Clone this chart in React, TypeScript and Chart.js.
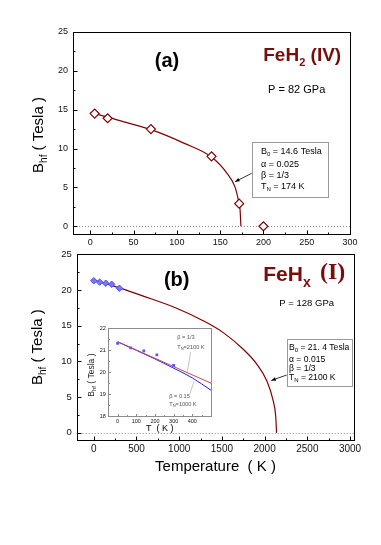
import React, { useEffect, useRef } from "react";
import { Chart, registerables } from "chart.js";

Chart.register(...registerables);

const SANS = "'Liberation Sans', Arial, Helvetica, sans-serif";
const SERIF = "'Liberation Serif', 'Times New Roman', serif";
const DARK_RED = "#800000";
const TITLE_RED = "#7a0c0c";

// ---- Panel (a): FeH2 (IV), P = 82 GPa ----
const aXTicks = [0, 50, 100, 150, 200, 250, 300];
const aYTicks = [0, 5, 10, 15, 20, 25];
const aDataT = [5, 20, 70, 140, 172, 200];
const aDataB = [14.5, 13.9, 12.5, 9.0, 2.9, 0];
const aFitT = [0, 20, 40, 71, 108, 140, 158, 167, 171, 173, 174];
const aFitB = [14.6, 14.05, 13.4, 12.4, 10.7, 8.9, 6.8, 5.1, 3.4, 2.1, 0];

// ---- Panel (b): FeHx (I), P = 128 GPa ----
const bXTicks = [0, 500, 1000, 1500, 2000, 2500, 3000];
const bYTicks = [0, 5, 10, 15, 20, 25];
const bDataT = [0, 70, 140, 210, 300];
const bDataB = [21.3, 21.1, 20.95, 20.8, 20.25];
const bFitT = [0, 300, 580, 970, 1280, 1520, 1750, 1910, 2025, 2100, 2130, 2140];
const bFitB = [21.4, 20.3, 19.15, 17.45, 15.7, 14.0, 11.7, 9.6, 7.3, 4.5, 2.3, 0];

// ---- Inset of panel (b) ----
const iXTicks = [0, 100, 200, 300, 400];
const iYTicks = [18, 19, 20, 21, 22];
const iDataT = [0, 70, 140, 210, 300];
const iDataB = [21.3, 21.1, 20.96, 20.78, 20.3];
const iFitThirdT = [0, 500];
const iFitThirdB = [21.38, 19.5];
const iFit015T = [0, 100, 200, 300, 400, 500];
const iFit015B = [21.37, 20.99, 20.6, 20.18, 19.74, 19.18];

const zip = (xs: number[], ys: number[]) => xs.map((x, i) => ({ x, y: ys[i] }));

type Run = { t: string; size: number; bold?: boolean; family?: string; dy?: number };

function fontOf(r: Run) {
  return `${r.bold ? "bold " : ""}${r.size}px ${r.family || SANS}`;
}

function drawRuns(ctx: any, runs: Run[], x: number, y: number, align = "left", color = "#000", rot = 0) {
  ctx.save();
  ctx.translate(x, y);
  if (rot) ctx.rotate(rot);
  ctx.fillStyle = color;
  ctx.textBaseline = "alphabetic";
  ctx.textAlign = "left";
  let w = 0;
  runs.forEach((r) => {
    ctx.font = fontOf(r);
    w += ctx.measureText(r.t).width;
  });
  let cx = align === "left" ? 0 : align === "center" ? -w / 2 : -w;
  runs.forEach((r) => {
    ctx.font = fontOf(r);
    ctx.fillText(r.t, cx, r.dy || 0);
    cx += ctx.measureText(r.t).width;
  });
  ctx.restore();
}

function arrow(ctx: any, x1: number, y1: number, x2: number, y2: number, color = "#000") {
  ctx.save();
  ctx.strokeStyle = color;
  ctx.fillStyle = color;
  ctx.lineWidth = 0.8;
  ctx.beginPath();
  ctx.moveTo(x1, y1);
  ctx.lineTo(x2, y2);
  ctx.stroke();
  const a = Math.atan2(y2 - y1, x2 - x1);
  const L = 4.5;
  const W = 1.8;
  ctx.beginPath();
  ctx.moveTo(x2, y2);
  ctx.lineTo(x2 - L * Math.cos(a) + W * Math.sin(a), y2 - L * Math.sin(a) - W * Math.cos(a));
  ctx.lineTo(x2 - L * Math.cos(a) - W * Math.sin(a), y2 - L * Math.sin(a) + W * Math.cos(a));
  ctx.closePath();
  ctx.fill();
  ctx.restore();
}

function line(ctx: any, x1: number, y1: number, x2: number, y2: number, color: string, w = 0.7) {
  ctx.save();
  ctx.strokeStyle = color;
  ctx.lineWidth = w;
  ctx.beginPath();
  ctx.moveTo(x1, y1);
  ctx.lineTo(x2, y2);
  ctx.stroke();
  ctx.restore();
}

function box(ctx: any, x1: number, y1: number, x2: number, y2: number) {
  ctx.save();
  ctx.fillStyle = "#fff";
  ctx.strokeStyle = "#9a9a9a";
  ctx.lineWidth = 1;
  const l = Math.round(Math.min(x1, x2)) + 0.5;
  const t = Math.round(Math.min(y1, y2)) + 0.5;
  const r = Math.round(Math.max(x1, x2)) + 0.5;
  const b = Math.round(Math.max(y1, y2)) + 0.5;
  ctx.fillRect(l, t, r - l, b - t);
  ctx.strokeRect(l, t, r - l, b - t);
  ctx.restore();
}

function minorValues(min: number, max: number, step: number, majors: number[]) {
  const out: number[] = [];
  const start = Math.ceil(min / step) * step;
  for (let v = start; v <= max + 1e-9; v += step) {
    if (!majors.some((m) => Math.abs(m - v) < step * 1e-3)) out.push(v);
  }
  return out;
}

function framePlugin(opts: any) {
  return {
    id: "frameTicks",
    beforeDraw(chart: any) {
      if (!opts.whiteBg) return;
      const { ctx, chartArea: a } = chart;
      ctx.save();
      ctx.fillStyle = "#fff";
      ctx.fillRect(a.left, a.top, a.right - a.left, a.bottom - a.top);
      ctx.restore();
    },
    beforeDatasetsDraw(chart: any) {
      if (!opts.zeroLine) return;
      const { ctx, chartArea: a } = chart;
      const y0 = Math.round(chart.scales.y.getPixelForValue(0)) + 0.5;
      ctx.save();
      ctx.strokeStyle = "#8a8a8a";
      ctx.lineWidth = 1;
      ctx.setLineDash([1, 2]);
      ctx.beginPath();
      ctx.moveTo(a.left, y0);
      ctx.lineTo(a.right, y0);
      ctx.stroke();
      ctx.restore();
    },
    afterDatasetsDraw(chart: any) {
      const { ctx, chartArea: a, scales } = chart;
      const sx = scales.x;
      const sy = scales.y;
      const L = Math.round(a.left) + 0.5;
      const R = Math.round(a.right) + 0.5;
      const T = Math.round(a.top) + 0.5;
      const B = Math.round(a.bottom) + 0.5;
      ctx.save();
      ctx.strokeStyle = opts.color;
      ctx.lineWidth = 1;
      ctx.beginPath();
      const xMaj = sx.ticks.map((t: any) => t.value);
      const yMaj = sy.ticks.map((t: any) => t.value);
      xMaj.forEach((v: number) => {
        const p = Math.round(sx.getPixelForValue(v)) + 0.5;
        ctx.moveTo(p, B);
        ctx.lineTo(p, B - opts.major);
      });
      minorValues(sx.min, sx.max, opts.xMinor, xMaj).forEach((v) => {
        const p = Math.round(sx.getPixelForValue(v)) + 0.5;
        ctx.moveTo(p, B);
        ctx.lineTo(p, B - opts.minor);
      });
      yMaj.forEach((v: number) => {
        const p = Math.round(sy.getPixelForValue(v)) + 0.5;
        ctx.moveTo(L, p);
        ctx.lineTo(L + opts.major, p);
      });
      minorValues(sy.min, sy.max, opts.yMinor, yMaj).forEach((v) => {
        const p = Math.round(sy.getPixelForValue(v)) + 0.5;
        ctx.moveTo(L, p);
        ctx.lineTo(L + opts.minor, p);
      });
      ctx.stroke();
      ctx.strokeRect(L, T, R - L, B - T);
      ctx.restore();
    },
  };
}

function linearAxis(min: number, max: number, ticks: number[], o: any) {
  return {
    type: "linear",
    min,
    max,
    afterBuildTicks: (s: any) => {
      s.ticks = ticks.map((v) => ({ value: v }));
    },
    afterFit: (s: any) => {
      if (o.horizontal) s.height = o.size;
      else s.width = o.size;
    },
    grid: { display: false, drawTicks: false },
    border: { display: false },
    ticks: {
      font: { size: o.fontSize, family: SANS },
      color: "#111",
      padding: o.pad,
      maxRotation: 0,
      autoSkip: false,
      callback: (v: any) => String(v),
    },
    title: o.title
      ? {
          display: true,
          text: o.title,
          color: "#000",
          font: { size: o.titleSize, family: SANS },
          padding: { top: 0, bottom: o.titlePad },
        }
      : { display: false },
  };
}

const P = (chart: any, x: number, y: number) => [chart.scales.x.getPixelForValue(x), chart.scales.y.getPixelForValue(y)];

function topConfig(): any {
  const decor = {
    id: "decorA",
    afterDraw(chart: any) {
      const { ctx, chartArea: a } = chart;
      let p = P(chart, 88.6, 20.47);
      drawRuns(ctx, [{ t: "(a)", size: 20, bold: true }], p[0], p[1], "center");
      p = P(chart, 199.8, 21.31);
      drawRuns(
        ctx,
        [
          { t: "FeH", size: 19, bold: true },
          { t: "2", size: 11, bold: true, dy: 5 },
          { t: " (IV)", size: 19, bold: true },
        ],
        p[0],
        p[1],
        "left",
        TITLE_RED
      );
      p = P(chart, 238.4, 17.15);
      drawRuns(ctx, [{ t: "P = 82 GPa", size: 11 }], p[0], p[1], "center");
      // parameter box
      const b1 = P(chart, 186.4, 10.88);
      const b2 = P(chart, 274.9, 3.72);
      const a1 = P(chart, 186.4, 6.81);
      const a2 = P(chart, 167.2, 5.73);
      arrow(ctx, a1[0], a1[1], a2[0], a2[1]);
      box(ctx, b1[0], b1[1], b2[0], b2[1]);
      const lx = 197.2;
      p = P(chart, lx, 9.31);
      drawRuns(ctx, [{ t: "B", size: 9 }, { t: "0", size: 6, dy: 2 }, { t: " = 14.6 Tesla", size: 9 }], p[0], p[1]);
      p = P(chart, lx, 7.56);
      drawRuns(ctx, [{ t: "\u03b1 = 0.025", size: 9 }], p[0], p[1]);
      p = P(chart, lx, 6.18);
      drawRuns(ctx, [{ t: "\u03b2 = 1/3", size: 9 }], p[0], p[1]);
      p = P(chart, lx, 4.77);
      drawRuns(ctx, [{ t: "T", size: 9 }, { t: "N", size: 6, dy: 2 }, { t: " = 174 K", size: 9 }], p[0], p[1]);
      // y title
      drawRuns(
        ctx,
        [
          { t: "B", size: 15 },
          { t: "hf", size: 10, dy: 4 },
          { t: " ( Tesla )", size: 15 },
        ],
        a.left - 29.7,
        (a.top + a.bottom) / 2 + 2,
        "center",
        "#000",
        -Math.PI / 2
      );
    },
  };
  return {
    type: "line",
    data: {
      datasets: [
        {
          label: "FeH2 data",
          data: zip(aDataT, aDataB),
          showLine: false,
          pointStyle: "rectRot",
          pointRadius: 4.5,
          pointBorderWidth: 1.2,
          pointBorderColor: DARK_RED,
          pointBackgroundColor: "#fff",
          borderColor: DARK_RED,
          backgroundColor: "#fff",
        },
        {
          label: "fit",
          data: zip(aFitT, aFitB),
          borderColor: DARK_RED,
          borderWidth: 1.2,
          pointRadius: 0,
          cubicInterpolationMode: "monotone",
          fill: false,
        },
      ],
    },
    options: {
      responsive: false,
      animation: false,
      events: [],
      layout: { padding: { left: 0, right: 31, top: 32, bottom: 0 } },
      plugins: { legend: { display: false }, tooltip: { enabled: false } },
      scales: {
        x: linearAxis(-20, 300, aXTicks, { horizontal: true, size: 16, fontSize: 9, pad: 3 }),
        y: linearAxis(-1, 25, aYTicks, { horizontal: false, size: 73, fontSize: 9, pad: 5 }),
      },
    },
    plugins: [framePlugin({ color: "#000", major: 4, minor: 2, xMinor: 25, yMinor: 2.5, zeroLine: true }), decor],
  };
}

function bottomConfig(): any {
  const decor = {
    id: "decorB",
    afterDraw(chart: any) {
      const { ctx, chartArea: a } = chart;
      let p = P(chart, 970.7, 20.63);
      drawRuns(ctx, [{ t: "(b)", size: 20, bold: true }], p[0], p[1], "center");
      p = P(chart, 1984.5, 21.33);
      drawRuns(
        ctx,
        [
          { t: "FeH", size: 21, bold: true },
          { t: "x", size: 14, bold: true, dy: 6 },
        ],
        p[0],
        p[1],
        "left",
        TITLE_RED
      );
      p = P(chart, 2648, 21.54);
      drawRuns(ctx, [{ t: "(I)", size: 24, bold: true, family: SERIF }], p[0], p[1], "left", TITLE_RED);
      p = P(chart, 2492.6, 17.8);
      drawRuns(ctx, [{ t: "P = 128 GPa", size: 9.5 }], p[0], p[1], "center");
      const b1 = P(chart, 2258.5, 13.1);
      const b2 = P(chart, 3026.5, 6.6);
      const a1 = P(chart, 2258.5, 8.1);
      const a2 = P(chart, 2078, 7.33);
      arrow(ctx, a1[0], a1[1], a2[0], a2[1]);
      box(ctx, b1[0], b1[1], b2[0], b2[1]);
      const lx = 2285;
      const fs = 8.6;
      p = P(chart, lx, 11.59);
      drawRuns(ctx, [{ t: "B", size: fs }, { t: "0", size: 6, dy: 2 }, { t: " = 21. 4 Tesla", size: fs }], p[0], p[1]);
      p = P(chart, lx, 9.96);
      drawRuns(ctx, [{ t: "\u03b1 = 0.015", size: fs }], p[0], p[1]);
      p = P(chart, lx, 8.7);
      drawRuns(ctx, [{ t: "\u03b2 = 1/3", size: fs }], p[0], p[1]);
      p = P(chart, lx, 7.39);
      drawRuns(ctx, [{ t: "T", size: fs }, { t: "N", size: 6, dy: 2 }, { t: " = 2100 K", size: fs }], p[0], p[1]);
      drawRuns(
        ctx,
        [
          { t: "B", size: 15 },
          { t: "hf", size: 10, dy: 4 },
          { t: " ( Tesla )", size: 15 },
        ],
        a.left - 35,
        (a.top + a.bottom) / 2,
        "center",
        "#000",
        -Math.PI / 2
      );
    },
  };
  return {
    type: "line",
    data: {
      datasets: [
        {
          label: "FeHx data",
          data: zip(bDataT, bDataB),
          showLine: false,
          pointStyle: "rectRot",
          pointRadius: 3.2,
          pointBorderWidth: 1,
          pointBorderColor: "#4a4aff",
          pointBackgroundColor: "#7878ff",
        },
        {
          label: "fit",
          data: zip(bFitT, bFitB),
          borderColor: DARK_RED,
          borderWidth: 1.2,
          pointRadius: 0,
          cubicInterpolationMode: "monotone",
          fill: false,
        },
      ],
    },
    options: {
      responsive: false,
      animation: false,
      events: [],
      layout: { padding: { left: 0, right: 26.7, top: 14.3, bottom: 0 } },
      plugins: { legend: { display: false }, tooltip: { enabled: false } },
      scales: {
        x: linearAxis(-200, 3050, bXTicks, {
          horizontal: true,
          size: 105,
          fontSize: 10,
          pad: 3,
          title: "Temperature  ( K )",
          titleSize: 15,
          titlePad: 69,
        }),
        y: linearAxis(-1, 25, bYTicks, { horizontal: false, size: 76.7, fontSize: 9.5, pad: 5 }),
      },
    },
    plugins: [framePlugin({ color: "#000", major: 4, minor: 2, xMinor: 250, yMinor: 2.5, zeroLine: true }), decor],
  };
}

function insetConfig(): any {
  const decor = {
    id: "decorInset",
    afterDraw(chart: any) {
      const { ctx, chartArea: a } = chart;
      const g = "#555";
      let p = P(chart, 319.5, 21.5);
      drawRuns(ctx, [{ t: "\u03b2 = 1/3", size: 5.6 }], p[0], p[1], "left", g);
      p = P(chart, 319.5, 21.05);
      drawRuns(ctx, [{ t: "T", size: 5.6 }, { t: "N", size: 4, dy: 1.3 }, { t: "=2100 K", size: 5.6 }], p[0], p[1], "left", g);
      p = P(chart, 276.7, 18.83);
      drawRuns(ctx, [{ t: "\u03b2 = 0.15", size: 5.6 }], p[0], p[1], "left", g);
      p = P(chart, 276.7, 18.48);
      drawRuns(ctx, [{ t: "T", size: 5.6 }, { t: "N", size: 4, dy: 1.3 }, { t: "=1000 K", size: 5.6 }], p[0], p[1], "left", g);
      let l1 = P(chart, 391, 20.91);
      let l2 = P(chart, 373, 20.02);
      line(ctx, l1[0], l1[1], l2[0], l2[1], "#aaa");
      l1 = P(chart, 387, 19.02);
      l2 = P(chart, 410, 19.6);
      line(ctx, l1[0], l1[1], l2[0], l2[1], "#aaa");
      drawRuns(
        ctx,
        [
          { t: "B", size: 8.5 },
          { t: "hf", size: 6, dy: 2.5 },
          { t: " ( Tesla )", size: 8.5 },
        ],
        a.left - 14.5,
        (a.top + a.bottom) / 2 + 3,
        "center",
        "#222",
        -Math.PI / 2
      );
    },
  };
  return {
    type: "line",
    data: {
      datasets: [
        {
          label: "inset data",
          data: zip(iDataT, iDataB),
          showLine: false,
          pointStyle: "rect",
          pointRadius: 2,
          pointBorderWidth: 0,
          pointBackgroundColor: "#5c5cff",
          pointBorderColor: "#5c5cff",
        },
        {
          label: "beta 1/3",
          data: zip(iFitThirdT, iFitThirdB),
          borderColor: "#c84848",
          borderWidth: 1,
          pointRadius: 0,
          fill: false,
        },
        {
          label: "beta 0.15",
          data: zip(iFit015T, iFit015B),
          borderColor: "#1e1eff",
          borderWidth: 1,
          pointRadius: 0,
          cubicInterpolationMode: "monotone",
          fill: false,
        },
      ],
    },
    options: {
      responsive: false,
      animation: false,
      events: [],
      layout: { padding: { left: 0, right: 9, top: 8, bottom: 0 } },
      plugins: { legend: { display: false }, tooltip: { enabled: false } },
      scales: {
        x: linearAxis(-50, 500, iXTicks, {
          horizontal: true,
          size: 23.7,
          fontSize: 5.5,
          pad: 1.5,
          title: "T  ( K )",
          titleSize: 9,
          titlePad: 5.9,
        }),
        y: linearAxis(18, 22, iYTicks, { horizontal: false, size: 28.3, fontSize: 5.5, pad: 2.5 }),
      },
    },
    plugins: [
      framePlugin({ color: "#8c8c8c", major: 2.5, minor: 1.5, xMinor: 50, yMinor: 0.5, zeroLine: false, whiteBg: true }),
      decor,
    ],
  };
}

export default function App() {
  const topRef = useRef<HTMLCanvasElement>(null);
  const botRef = useRef<HTMLCanvasElement>(null);
  const insRef = useRef<HTMLCanvasElement>(null);

  useEffect(() => {
    const charts = [
      new Chart(topRef.current as HTMLCanvasElement, topConfig()),
      new Chart(botRef.current as HTMLCanvasElement, bottomConfig()),
      new Chart(insRef.current as HTMLCanvasElement, insetConfig()),
    ];
    return () => charts.forEach((c) => c.destroy());
  }, []);

  const abs = (l: number, t: number, w: number, h: number): any => ({
    position: "absolute",
    left: l,
    top: t,
    width: w,
    height: h,
  });

  return (
    <div style={{ position: "absolute", left: 0, top: 0, width: 381, height: 545, background: "#fff", overflow: "hidden" }}>
      <canvas ref={topRef} width={381} height={250} style={abs(0, 0, 381, 250)} />
      <canvas ref={botRef} width={381} height={305} style={abs(0, 240, 381, 305)} />
      <canvas ref={insRef} width={140} height={120} style={abs(80, 320, 140, 120)} />
    </div>
  );
}
